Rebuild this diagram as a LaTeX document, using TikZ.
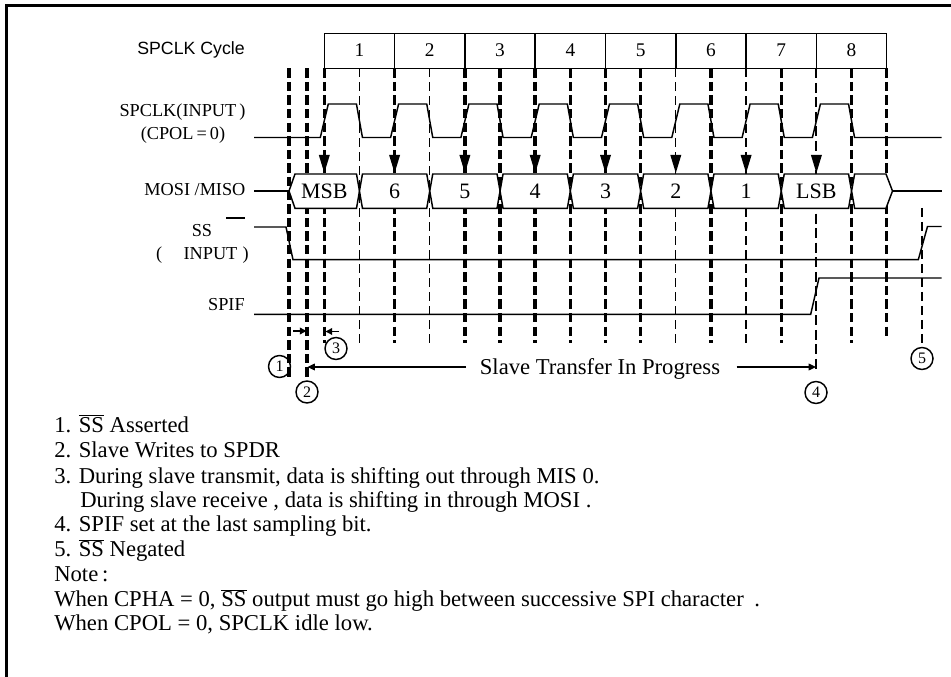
\documentclass[tikz,border=0pt]{standalone}
\usepackage{fontspec}
\setmainfont{Liberation Serif}
\newfontfamily\arialfam{Liberation Sans}
\usetikzlibrary{arrows.meta}
\newcommand{\ovl}[1]{$\overline{\mbox{#1}}$}
\newcommand{\notefont}{\fontsize{17pt}{18pt}\selectfont}
\newcommand{\labfont}{\fontsize{13.7pt}{14pt}\selectfont}
\newcommand{\busfont}{\fontsize{16.5pt}{17pt}\selectfont}
\newcommand{\cycfont}{\fontsize{14.5pt}{15pt}\selectfont}
\newcommand{\circfont}{\fontsize{12pt}{12pt}\selectfont}
\begin{document}
\begin{tikzpicture}[x=0.75pt,y=-0.75pt,
  sig/.style={line width=1.1pt},
  thickdash/.style={line width=2.6pt, dash pattern=on 7pt off 3.2pt},
  thindash/.style={line width=1pt, dash pattern=on 6.75pt off 3.75pt},
  meddash/.style={line width=1.6pt, dash pattern=on 7.5pt off 3.4pt},
  lab/.style={inner sep=0pt, font=\labfont, anchor=base},
  note/.style={anchor=base west, inner sep=0pt, font=\notefont},
  busl/.style={anchor=base, inner sep=0pt, font=\busfont},
  cyc/.style={anchor=base, inner sep=0pt, font=\cycfont},
  num/.style={circle, draw, line width=1.1pt, minimum size=16.5pt, inner sep=0pt, font=\circfont},
  arr/.style={line width=1pt, -{Triangle[length=5.5pt,width=5pt]}},
  smallarr/.style={line width=1pt, -{Triangle[length=5pt,width=5pt]}},
]
\useasboundingbox (0,0) rectangle (951,677);
% frame
\draw[line width=2.3pt] (6.5,677) -- (6.5,5.5) -- (951,5.5);

% dashed guide lines
\foreach \x/\e in {289/377,307/377,324.3/343,394.6/343,464.9/343,500.1/343,535.2/343,570.4/343,605.5/343,640.7/343,711/343,781.3/343,851.6/343,886.7/336}
  \draw[thickdash] (\x,68.3) -- (\x,\e);
\foreach \x in {359.5,429.8,675.8,746.1}
  \draw[thindash] (\x,68.3) -- (\x,343);
\draw[meddash] (816.4,68.3) -- (816.4,372);
\draw[thindash] (922,208) -- (922,343);

% cycle box
\draw[sig] (324.3,33.3) rectangle (886.7,68.3);
\foreach \k in {1,...,7} \draw[sig] ({324.3+70.3*\k},33.3) -- ({324.3+70.3*\k},68.3);
\foreach \k in {1,...,8} \node[cyc] (cy\k) at ({324.3+70.3*(\k-1)+35.15},56.5) {\k};
\node[anchor=base east, inner sep=0pt, font=\arialfam\fontsize{13.3pt}{14pt}\selectfont] (cyclab) at (245,54.5) {SPCLK Cycle};

% SPCLK
\draw[sig] (254,137.5)
  \foreach \k in {0,...,7} { -- ({324.3+70.3*\k-4},137.5) -- ({324.3+70.3*\k+4},104) -- ({359.45+70.3*\k-3},104) -- ({359.45+70.3*\k+3},137.5) }
  -- (941.7,137.5);

% SS
\draw[sig] (254,227) -- (286,227) -- (293,259.7) -- (918.3,259.7) -- (927.5,226.5) -- (941.7,226.5);
% SPIF
\draw[sig] (254,314.3) -- (810.7,314.3) -- (819,278) -- (941.7,278);

% MOSI/MISO bus
\draw[sig] (254,191) -- (289,191);
\draw[sig, fill=white] (289,191) -- (295,174) -- (356.5,174) -- (359.5,191) -- (356.5,208.3) -- (295,208.3) -- cycle;
\foreach \k in {1,...,7} {
  \pgfmathsetmacro\ma{359.45+70.3*(\k-1)}
  \pgfmathsetmacro\mb{\ma+70.3}
  \draw[sig, fill=white] (\ma,191) -- (\ma+3,174) -- (\mb-3,174) -- (\mb,191) -- (\mb-3,208.3) -- (\ma+3,208.3) -- cycle;
}
\draw[sig, fill=white] (851.6,191) -- (854.6,174) -- (886,174) -- (892.5,191) -- (886,208.3) -- (854.6,208.3) -- cycle;
\draw[sig] (892.5,191) -- (941.7,191);
\foreach \t [count=\k from 0] in {MSB,6,5,4,3,2,1,LSB}
  \node[busl] (d\k) at ({324.3+70.3*\k},198.3) {\t};

% sampling arrows
\foreach \k in {0,...,7}
  \fill ({324.3+70.3*\k-5.5},155) -- ++(11,0) -- ++(-5.5,18) -- cycle;

% signal labels
\node[lab] (lclk) at (182.5,116.7) {SPCLK(INPUT\,)};
\node[lab] (lcpol) at (183,139.3) {(CPOL\,=\,0)};
\node[lab, anchor=base east] (lmosi) at (245.7,196) {MOSI /MISO};
\node[lab] (lss) at (202,236.7) {SS};
\draw[line width=1.1pt] (226,218) -- (245,218);
\node[lab] (lssin) at (202.5,259.3) {(\hspace{16pt}INPUT\hspace{4pt})};
\node[lab, anchor=base east] (lspif) at (245,311) {SPIF};

% numbered markers
\node[num] (c1) at (279.5,366.5) {1};
\node[num] (c2) at (307,392) {2};
\node[num] (c3) at (336,348.5) {3};
\node[num] (c4) at (816,392.5) {4};
\node[num] (c5) at (922,358.5) {5};

% small arrows
\coordinate (a1s) at (293,331);
\coordinate (a1e) at (306.5,331);
\draw[smallarr] (a1s) -- (a1e);
\coordinate (a3s) at (339,331.5);
\coordinate (a3e) at (325.5,331.5);
\draw[smallarr] (a3s) -- (a3e);

% transfer in progress
\node[anchor=base, inner sep=0pt, font=\notefont] (stp) at (600,375) {Slave Transfer In Progress};
\coordinate (t2) at (307.5,367);
\coordinate (t4) at (816,367);
\draw[arr] (466,367) -- (t2);
\draw[arr] (736.7,367) -- (t4);

% notes
\node[note] (n1) at (54,432.3) {1. \ovl{SS} Asserted};
\node[note] (n2) at (54,457.7) {2. Slave Writes to SPDR};
\node[note] (n3) at (54,483.3) {3. During slave transmit, data is shifting out through MIS 0.};
\node[note] (n3b) at (80,507.3) {During slave receive , data is shifting in through MOSI .};
\node[note] (n4) at (54,531.7) {4. SPIF set at the last sampling bit.};
\node[note] (n5) at (54,556.7) {5. \ovl{SS} Negated};
\node[note] (n6) at (54,581.7) {Note\,:};
\node[note] (n7) at (54,606.7) {When CPHA = 0, \ovl{SS} output must go high between successive SPI character\hspace{8pt}.};
\node[note] (n8) at (54,630) {When CPOL = 0, SPCLK idle low.};
\end{tikzpicture}
\end{document}
